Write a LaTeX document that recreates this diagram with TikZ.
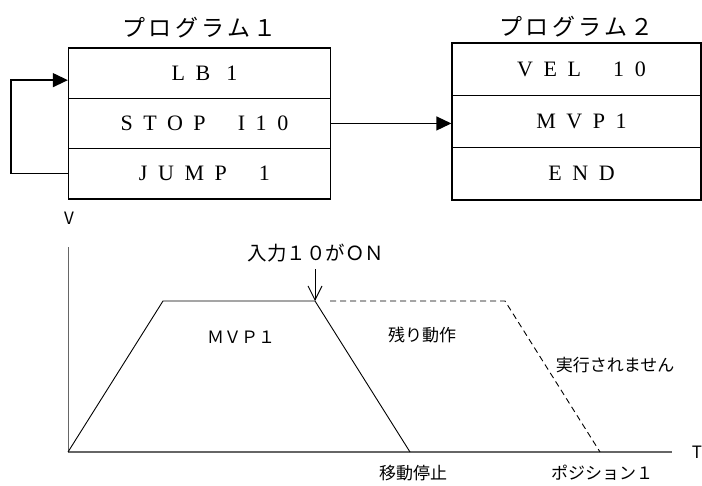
\documentclass[tikz,border=0pt]{standalone}
\usepackage{fontspec}
\newfontfamily\jpfont{Noto Sans CJK JP}
\newfontfamily\jptitle[LetterSpace=15]{Noto Sans CJK JP}
\newfontfamily\boxfont[LetterSpace=48]{Liberation Serif}
\usetikzlibrary{positioning,arrows.meta}
\tikzstyle{line} = [draw, -{Triangle[length=15pt,width=14pt]}, line width=1.3pt]
\tikzstyle{row} = [draw, rectangle, line width=1.3pt, minimum width=262pt, minimum height=50.3pt, node distance=50.3pt, font=\boxfont\fontsize{22}{22}\selectfont, execute at begin node={\kern10pt}]
\tikzstyle{row2} = [row, minimum width=249pt, minimum height=52.3pt, node distance=52.3pt]
\tikzstyle{title} = [font=\jptitle\fontsize{23}{23}\selectfont]
\tikzstyle{lbl} = [inner sep=0pt, font=\jpfont\fontsize{17}{17}\selectfont]
\tikzstyle{curve} = [draw, line width=0.9pt]
\tikzstyle{axis} = [draw, gray!80!black, line width=1.5pt]

\begin{document}
\begin{tikzpicture}[x=1pt,y=-1pt]
    \useasboundingbox (0,0) rectangle (702,486);
    % program 1
    \node [row] (row0) at (199.5,73.15) {LB\ 1};
    \node [row, below of=row0] (row1) {STOP\ \ I10};
    \node [row, below of=row1] (row2) {JUMP\ \ 1};
    \node [title, above of=row0, node distance=46pt] (title1) {プログラム１};
    % program 2
    \node [row2] (row3) at (576.5,69.15) {VEL\ \ 10};
    \node [row2, below of=row3] (row4) {MVP1};
    \node [row2, below of=row4] (row5) {END};
    \node [title, above of=row3, node distance=43pt] (title2) {プログラム２};
    \path [line] (row2.west) -- ++(-57,0) |- ([yshift=-7pt]row0.west);
    \path [line] (row1.east) -- (row1.east -| row4.west);

    % speed graph
    \coordinate (o) at (68,452);
    \coordinate (vtop) at (68,247);
    \coordinate (tend) at (672,452);
    \coordinate (up) at (163,301);
    \coordinate (in10) at (315,301);
    \coordinate (stop) at (410,452);
    \coordinate (rest) at (505,301);
    \coordinate (pos1) at (600,452);
    \draw [gray!80!black, line width=1pt] (o) -- (vtop);
    \path [axis] (o) -- (tend);
    \node [lbl] (vlbl) at (69,218) {V};
    \node [lbl] (tlbl) at (697,452) {T};
    \path [curve] (o) -- (up) -- (in10) -- (stop);
    \path [curve, dash pattern=on 6pt off 4pt] ([xshift=15pt]in10) -- (rest) -- (pos1);
    \node [lbl, font=\jpfont\fontsize{19.5}{19.5}\selectfont] (onlbl) at (316,253) {入力１０がＯＮ};
    \draw [line width=0.9pt, -{Straight Barb[length=14pt,width=14pt]}] ([yshift=-7pt]onlbl.south -| in10) -- (in10);
    \node [lbl] (mvp) at (241,337) {ＭＶＰ１};
    \node [lbl] (restlbl) at (422,335) {残り動作};
    \node [lbl] (notrun) at (615,365) {実行されません};
    \node [lbl] (stoplbl) at (413,473) {移動停止};
    \node [lbl] (poslbl) at (602,473) {ポジション１};
\end{tikzpicture}
\end{document}
